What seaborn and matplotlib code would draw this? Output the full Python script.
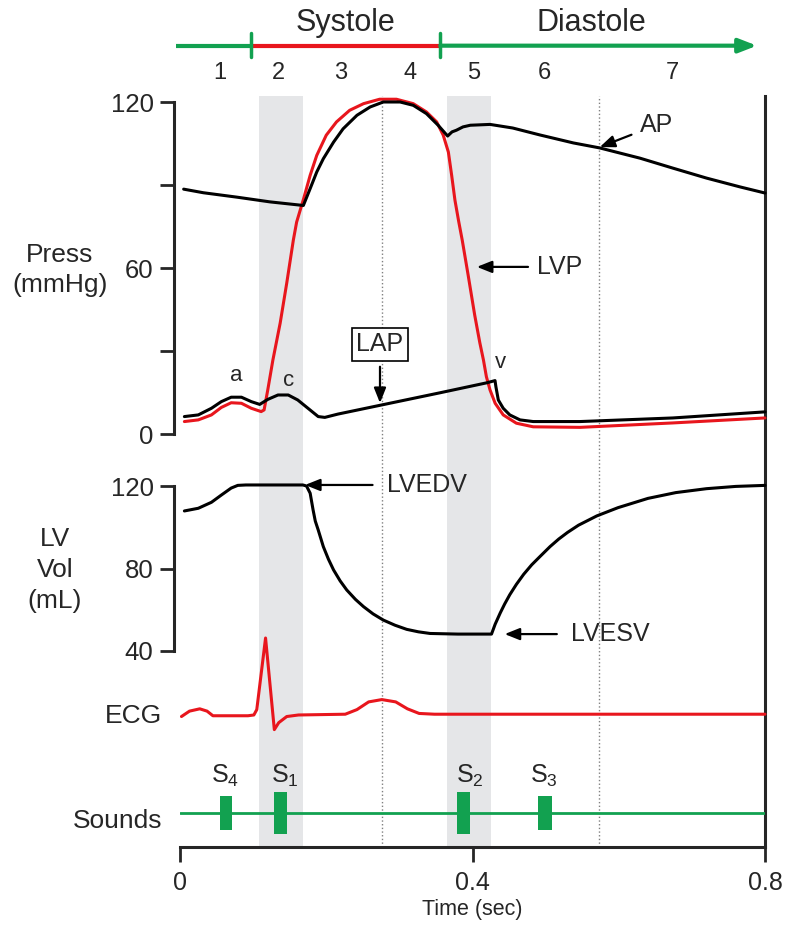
import matplotlib
matplotlib.use("Agg")
import matplotlib.pyplot as plt
import seaborn as sns

# ---------------- data (time in seconds) ----------------
# aortic pressure (mmHg)
ap_t = [0.005, 0.032, 0.078, 0.123, 0.1687, 0.178, 0.187, 0.196, 0.210, 0.223,
        0.242, 0.260, 0.278, 0.301, 0.319, 0.337, 0.353, 0.366, 0.372, 0.378,
        0.387, 0.397, 0.424, 0.455, 0.492, 0.538, 0.574, 0.629, 0.674, 0.720,
        0.766, 0.800]
ap_p = [88.5, 87.2, 85.6, 83.9, 82.6, 88.7, 94.7, 99.5, 105.5, 110.3,
        115.2, 118.2, 120.0, 120.0, 118.8, 115.8, 111.6, 107.7, 109.2, 109.8,
        111.0, 111.6, 111.9, 110.6, 108.1, 105.2, 103.4, 99.7, 96.1, 92.5,
        89.3, 87.1]

# left ventricular pressure (mmHg)
lvp_t = [0.006, 0.025, 0.043, 0.0565, 0.070, 0.084, 0.0975, 0.111, 0.115, 0.120,
         0.127, 0.137, 0.146, 0.155, 0.1595, 0.169, 0.178, 0.187, 0.200, 0.214,
         0.232, 0.251, 0.273, 0.296, 0.319, 0.337, 0.351, 0.360, 0.367, 0.3715,
         0.376, 0.381, 0.386, 0.394, 0.403, 0.410, 0.415, 0.419, 0.424, 0.431,
         0.442, 0.460, 0.483, 0.547, 0.674, 0.800]
lvp_p = [4.5, 5.1, 6.9, 9.6, 11.3, 11.1, 9.3, 8.1, 8.7, 15.9,
         26.7, 40.1, 54.6, 70.1, 76.6, 85.0, 93.5, 100.7, 108.0, 112.8,
         117.0, 119.4, 121.0, 121.0, 119.4, 116.4, 112.8, 108.0, 101.9, 93.5,
         84.5, 77.0, 70.0, 57.5, 43.0, 33.0, 26.7, 20.7, 15.9, 11.1,
         6.9, 3.9, 2.6, 2.4, 4.0, 5.8]

# left atrial pressure (mmHg)
lap_t = [0.006, 0.025, 0.043, 0.0565, 0.070, 0.084, 0.0975, 0.109, 0.120, 0.134,
         0.148, 0.161, 0.175, 0.189, 0.198, 0.216, 0.3556, 0.4194, 0.4308, 0.432,
         0.4353, 0.442, 0.451, 0.465, 0.483, 0.547, 0.674, 0.800]
lap_p = [6.3, 6.9, 9.3, 11.7, 13.3, 13.3, 11.7, 10.7, 12.5, 14.1,
         14.1, 12.3, 9.3, 6.3, 6.0, 7.2, 14.9, 18.5, 19.3, 17.1,
         12.3, 9.3, 6.9, 5.1, 4.5, 4.5, 5.8, 8.0]

# left ventricular volume (mL)
vol_t = [0.006, 0.025, 0.043, 0.0565, 0.070, 0.079, 0.090, 0.168, 0.173, 0.178,
         0.182, 0.185, 0.189, 0.196, 0.203, 0.210, 0.219, 0.228, 0.240, 0.251,
         0.264, 0.278, 0.294, 0.310, 0.326, 0.342, 0.380, 0.426, 0.431, 0.438,
         0.444, 0.451, 0.460, 0.470, 0.481, 0.492, 0.506, 0.518, 0.530, 0.545,
         0.570, 0.599, 0.640, 0.678, 0.720, 0.760, 0.800]
vol_v = [107.9, 109.2, 112.1, 115.6, 119.0, 120.3, 120.5, 120.5, 120.0, 116.5,
         108.4, 103.0, 98.7, 90.6, 84.5, 79.3, 74.0, 69.6, 65.0, 61.5,
         58.0, 55.0, 52.5, 50.5, 49.3, 48.5, 48.2, 48.2, 53.0, 58.5,
         62.8, 67.3, 72.3, 77.2, 81.8, 85.7, 90.6, 94.3, 97.5, 101.0,
         105.5, 109.5, 114.0, 116.8, 118.7, 119.8, 120.3]

# ECG (relative amplitude)
ecg_t = [0.002, 0.013, 0.027, 0.037, 0.045, 0.093, 0.101, 0.105, 0.117, 0.129,
         0.135, 0.146, 0.162, 0.226, 0.242, 0.258, 0.276, 0.295, 0.311, 0.327,
         0.348, 0.800]
ecg_v = [-0.02, 0.05, 0.08, 0.05, -0.01, -0.01, 0.0, 0.07, 1.0, -0.19,
         -0.10, -0.02, 0.0, 0.01, 0.07, 0.17, 0.20, 0.17, 0.08, 0.02,
         0.01, 0.01]

# heart sounds
sound_names = ["S$_4$", "S$_1$", "S$_2$", "S$_3$"]
sound_t = [0.063, 0.138, 0.388, 0.499]
sound_w = [0.016, 0.018, 0.018, 0.019]
sound_h = [0.75, 0.9, 0.9, 0.75]
sound_label_t = [0.062, 0.144, 0.396, 0.498]

# phases
phase_names = ["1", "2", "3", "4", "5", "6", "7"]
phase_t = [0.055, 0.135, 0.219, 0.315, 0.401, 0.498, 0.674]
systole_start, systole_end = 0.097, 0.356
iso_bands = [(0.108, 0.168), (0.365, 0.425)]
dotted_t = [0.276, 0.573]

# ---------------- style ----------------
sns.set_theme(style="ticks")
plt.rcParams["font.family"] = ["Liberation Sans", "DejaVu Sans"]
plt.rcParams["mathtext.fontset"] = "custom"
plt.rcParams["mathtext.rm"] = "Liberation Sans"
plt.rcParams["mathtext.it"] = "Liberation Sans"
plt.rcParams["lines.solid_joinstyle"] = "round"

RED = "#e8161d"
GREEN = "#12a150"
BAND = "#e5e6e8"
LW = 2.2
FS = 18
ARROW = dict(arrowstyle="-|>,head_length=0.5,head_width=0.2", color="black",
             lw=1.6, shrinkA=4, shrinkB=0)

W, H = 800, 930
X0, X1 = 180, 765
fig = plt.figure(figsize=(8, 9.3), dpi=100)


def panel(top, bottom):
    ax = fig.add_axes([X0 / W, 1 - bottom / H, (X1 - X0) / W, (bottom - top) / H])
    ax.set_xlim(0, 0.8)
    ax.patch.set_visible(False)
    return ax


# background: shaded isovolumic phases, dotted lines, time axis
ax_bg = panel(96, 847)
ax_bg.set_ylim(0, 1)
for a, b in iso_bands:
    ax_bg.axvspan(a, b, color=BAND, lw=0)
for t in dotted_t:
    ax_bg.axvline(t, color="#808080", ls=":", lw=1)
ax_bg.spines[["top", "left"]].set_visible(False)
for s in ["bottom", "right"]:
    ax_bg.spines[s].set_linewidth(2.2)
ax_bg.set_yticks([])
ax_bg.set_xticks([0, 0.4, 0.8], ["0", "0.4", "0.8"])
ax_bg.tick_params(axis="x", length=11, width=2, labelsize=18, pad=6)
ax_bg.set_xlabel("Time (sec)", fontsize=15.5, labelpad=3)

# pressures
ax_p = panel(102, 434)
ax_p.set_ylim(0, 120)
sns.lineplot(x=lvp_t, y=lvp_p, ax=ax_p, color=RED, linewidth=LW, clip_on=False)
sns.lineplot(x=ap_t, y=ap_p, ax=ax_p, color="black", linewidth=LW, clip_on=False)
sns.lineplot(x=lap_t, y=lap_p, ax=ax_p, color="black", linewidth=LW, clip_on=False)
ax_p.spines[["top", "right", "bottom"]].set_visible(False)
ax_p.spines["left"].set_position(("outward", 4))
ax_p.spines["left"].set_linewidth(2.2)
ax_p.set_xticks([])
ax_p.set_yticks([0, 30, 60, 90, 120], ["0", "", "60", "", "120"])
ax_p.tick_params(axis="y", length=10, width=2, labelsize=18.5, pad=5)
ax_p.set_xlabel("")
ax_p.set_ylabel("")
ax_p.annotate("AP", xy=(0.574, 103.7), xytext=(0.629, 111.7), ha="left", va="center",
              fontsize=FS, arrowprops=ARROW, annotation_clip=False)
ax_p.annotate("LVP", xy=(0.406, 60.4), xytext=(0.488, 60.4), ha="left", va="center",
              fontsize=FS, arrowprops=ARROW, annotation_clip=False)
ax_p.annotate("LAP", xy=(0.2735, 11.2), xytext=(0.2735, 32.5), ha="center", va="center",
              fontsize=FS, arrowprops=ARROW, annotation_clip=False,
              bbox=dict(boxstyle="square,pad=0.18", fc="white", ec="black", lw=1.2))
ax_p.text(0.0766, 21.3, "a", ha="center", va="center", fontsize=16)
ax_p.text(0.148, 19.2, "c", ha="center", va="center", fontsize=16)
ax_p.text(0.4376, 26.0, "v", ha="center", va="center", fontsize=16)

# volume
ax_v = panel(486, 651)
ax_v.set_ylim(40, 120)
sns.lineplot(x=vol_t, y=vol_v, ax=ax_v, color="black", linewidth=LW, clip_on=False)
ax_v.spines[["top", "right", "bottom"]].set_visible(False)
ax_v.spines["left"].set_position(("outward", 4))
ax_v.spines["left"].set_linewidth(2.2)
ax_v.set_xticks([])
ax_v.set_yticks([40, 80, 120], ["40", "80", "120"])
ax_v.tick_params(axis="y", length=10, width=2, labelsize=18.5, pad=5)
ax_v.set_xlabel("")
ax_v.set_ylabel("")
ax_v.annotate("LVEDV", xy=(0.171, 120.5), xytext=(0.283, 120.5), ha="left", va="center",
              fontsize=FS, arrowprops=dict(ARROW, shrinkA=8), annotation_clip=False)
ax_v.annotate("LVESV", xy=(0.444, 48.2), xytext=(0.535, 48.2), ha="left", va="center",
              fontsize=FS, arrowprops=dict(ARROW, shrinkA=8), annotation_clip=False)

# ECG
ax_e = panel(638, 738)
ax_e.set_ylim(-0.299, 1.0)
sns.lineplot(x=ecg_t, y=ecg_v, ax=ax_e, color=RED, linewidth=LW, clip_on=False)
ax_e.axis("off")

# heart sounds
ax_s = panel(790, 836)
ax_s.set_ylim(-1, 1)
ax_s.axhline(0, color=GREEN, lw=2)
ax_s.bar(sound_t, [2 * h for h in sound_h], bottom=[-h for h in sound_h],
         width=sound_w, color=GREEN, lw=0)
for name, t in zip(sound_names, sound_label_t):
    ax_s.text(t, 1.6, name, ha="center", va="center", fontsize=FS, clip_on=False)
ax_s.axis("off")

# systole / diastole bar
ax_t = panel(10, 90)
ax_t.set_ylim(0, 1)
ax_t.plot([-0.0055, systole_start], [0.554, 0.554], color=GREEN, lw=3, clip_on=False,
          solid_capstyle="butt")
ax_t.plot([systole_start, systole_end], [0.554, 0.554], color=RED, lw=3,
          solid_capstyle="butt")
ax_t.annotate("", xy=(0.789, 0.554), xytext=(systole_end, 0.554),
              arrowprops=dict(arrowstyle="-|>,head_length=0.9,head_width=0.35",
                              color=GREEN, lw=3, shrinkA=0, shrinkB=0))
for t in (systole_start, systole_end):
    ax_t.plot([t, t], [0.41, 0.71], color=GREEN, lw=2.5)
ax_t.text((systole_start + systole_end) / 2, 0.84, "Systole", ha="center", va="center",
          fontsize=22)
ax_t.text(0.563, 0.84, "Diastole", ha="center", va="center", fontsize=22)
for name, t in zip(phase_names, phase_t):
    ax_t.text(t, 0.21, name, ha="center", va="center", fontsize=17)
ax_t.axis("off")

# left labels
fig.text(60 / W, 1 - 270 / H, "Press\n(mmHg)", ha="center", va="center", fontsize=19,
         linespacing=1.35)
fig.text(55 / W, 1 - 570 / H, "LV\nVol\n(mL)", ha="center", va="center", fontsize=19,
         linespacing=1.38)
fig.text(162 / W, 1 - 716 / H, "ECG", ha="right", va="center", fontsize=19)
fig.text(162 / W, 1 - 821 / H, "Sounds", ha="right", va="center", fontsize=19)

fig.savefig("out.png", dpi=100)
